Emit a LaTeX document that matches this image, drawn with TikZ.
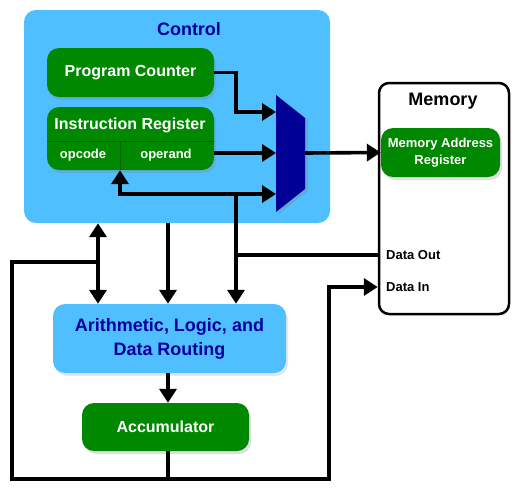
\documentclass[tikz,border=0pt]{standalone}
\usepackage{fontspec}
\setmainfont{Liberation Sans}
\usetikzlibrary{arrows.meta,shadows}

\definecolor{ctrlblue}{RGB}{79,191,255}
\definecolor{regreen}{RGB}{0,136,0}
\definecolor{darkgreen}{RGB}{0,95,0}
\definecolor{navy}{RGB}{0,0,160}
\definecolor{muxblue}{RGB}{0,0,150}

\tikzset{
  box/.style={rounded corners=12pt,draw=none,inner sep=0pt},
  reg/.style={box,fill=regreen,text=white,font=\bfseries\fontsize{16}{19}\selectfont,
    drop shadow={shadow xshift=2pt,shadow yshift=-3pt,opacity=0.25}},
  wire/.style={line width=3.6pt},
  tip/.tip={Triangle[length=14pt,width=17pt]},
  arr/.style={wire,-tip},
}

\begin{document}
\begin{tikzpicture}[x=1pt,y=-1pt]
\useasboundingbox (0,0) rectangle (519,493);

% control unit
\node[box,fill=ctrlblue,minimum width=306,minimum height=213] (ctrl) at (177,116.5) {};
\node[text=navy,font=\bfseries\fontsize{18}{21}\selectfont] (ctrltitle) at (189,29) {Control};
\node[reg,minimum width=167,minimum height=49] (pc) at (130.5,72.5) {Program Counter};
\node[reg,minimum width=167,minimum height=63] (ir) at (130.5,138.5) {};
\node[text=white,font=\bfseries\fontsize{16}{19}\selectfont] (irtitle) at (130,125) {Instruction Register};
\draw[darkgreen,line width=1pt] (ir.west |- 0,141) -- (ir.east |- 0,141);
\draw[darkgreen,line width=1pt] (120,141) -- (ir.south -| 120,0);
\node[text=white,font=\bfseries\fontsize{13}{15}\selectfont] (opcode) at (83,155) {opcode};
\node[text=white,font=\bfseries\fontsize{13}{15}\selectfont] (operand) at (166,155) {operand};

% mux
\fill[muxblue,drop shadow={shadow xshift=3pt,shadow yshift=-2pt,opacity=0.3}]
  (276,95) -- (305,118) -- (305,189) -- (276,212) -- cycle;
\coordinate (muxin1) at (276,112);
\coordinate (muxin2) at (276,153);
\coordinate (muxin3) at (276,194);
\coordinate (muxout) at (305,153);

% memory
\node[box,draw=black,line width=2.5pt,fill=white,rounded corners=10pt,
  minimum width=130,minimum height=231] (mem) at (444,198.5) {};
\node[font=\bfseries\fontsize{18}{21}\selectfont] (memtitle) at (443,101) {Memory};
\node[reg,minimum width=119,minimum height=49,align=center,
  font=\bfseries\fontsize{13}{17}\selectfont] (mar) at (440.5,152.5) {Memory Address\\Register};
\node[anchor=west,font=\bfseries\fontsize{13}{15}\selectfont,inner sep=0pt] (dataout) at (386,255) {Data Out};
\node[anchor=west,font=\bfseries\fontsize{13}{15}\selectfont,inner sep=0pt] (datain) at (386,287) {Data In};

% alu and accumulator
\node[box,fill=ctrlblue,minimum width=233,minimum height=69,align=center,text=navy,
  font=\bfseries\fontsize{18}{24}\selectfont,
  drop shadow={shadow xshift=2pt,shadow yshift=-3pt,opacity=0.2}] (alu) at (169.5,338.5)
  {Arithmetic, Logic, and\\Data Routing};
\node[reg,minimum width=167,minimum height=48] (acc) at (165.5,427) {Accumulator};

% wires
\coordinate (join) at (236,194);
\draw[arr] (pc.east) -| (236,112) -- (muxin1);
\draw[arr] (ir.east |- muxin2) -- (muxin2);
\draw[arr] (join) -- (muxin3);
\draw[arr] (join) -| (ir.south -| 120,0);
\draw[arr] (join) -- (join |- alu.north);
\draw[wire] (dataout.west -| mem.west) -- (dataout.west -| join);
\draw[arr] (muxout) -- (mar.west);
\draw[arr] (ctrl.south -| 168,0) -- (alu.north -| 168,0);
\draw[wire,tip-tip] (ctrl.south -| 98,0) -- (alu.north -| 98,0);
\draw[arr] (alu.south -| 168,0) -- (acc.north -| 168,0);
%\draw (acc.south) -- (168,479);
\draw[wire] (acc.south -| 168,0) -- (168,479);
\draw[arr] (98,262) -- (12,262) -- (12,479) -- (329,479) -- (329,287) -- (datain.west -| mem.west);
\end{tikzpicture}
\end{document}
